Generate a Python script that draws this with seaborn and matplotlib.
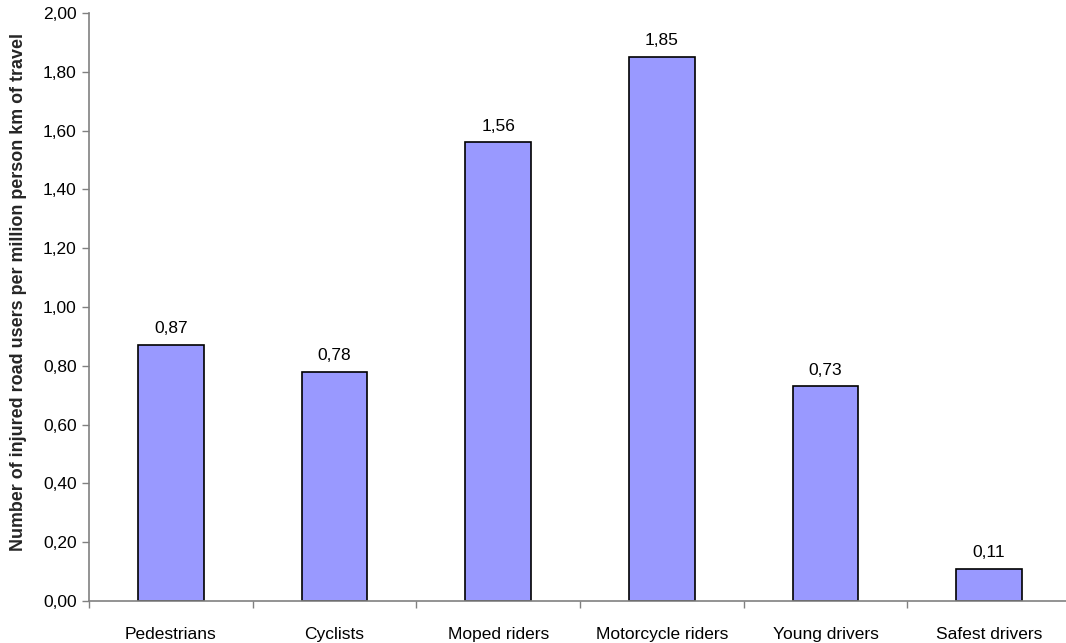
import matplotlib
matplotlib.use("Agg")
import matplotlib.pyplot as plt
import seaborn as sns
import pandas as pd
from matplotlib.ticker import FixedLocator, FuncFormatter

categories = ["Pedestrians", "Cyclists", "Moped riders", "Motorcycle riders",
              "Young drivers", "Safest drivers"]
values = [0.87, 0.78, 1.56, 1.85, 0.73, 0.11]
y_label = "Number of injured road users per million person km of travel"

df = pd.DataFrame({"category": categories, "value": values})

sns.set_theme(style="white")
plt.rcParams["font.family"] = ["Liberation Sans", "DejaVu Sans"]

fig = plt.figure(figsize=(10.66, 6.43), dpi=100)
ax = fig.add_axes([89 / 1066, 42 / 643, 982 / 1066, 588 / 643])

sns.barplot(data=df, x="category", y="value", color="#9999FF", width=0.4,
            edgecolor="black", linewidth=1.2, saturation=1, ax=ax)

def comma(v, pos=None):
    return f"{v:.2f}".replace(".", ",")

for i, v in enumerate(values):
    ax.text(i, v + 0.03, comma(v), ha="center", va="bottom", fontsize=12.5, color="black")

ax.set_xlim(-0.5, 5.5)
ax.set_ylim(0, 2.0)
ax.set_yticks([i * 0.2 for i in range(11)])
ax.yaxis.set_major_formatter(FuncFormatter(comma))
ax.tick_params(axis="y", which="major", left=True, length=5, width=1, color="#808080",
               labelsize=12.5, pad=4, labelcolor="black")

ax.tick_params(axis="x", which="major", bottom=False, length=0, labelsize=12.5, pad=19,
               labelcolor="black")
ax.xaxis.set_minor_locator(FixedLocator([-0.5, 0.5, 1.5, 2.5, 3.5, 4.5]))
ax.tick_params(axis="x", which="minor", bottom=True, length=5, width=1, color="#808080")

ax.set_xlabel("")
ax.set_ylabel(y_label, fontsize=12.9, fontweight="bold")
ax.yaxis.set_label_coords(-0.063, 0.525)

for side in ["top", "right"]:
    ax.spines[side].set_visible(False)
for side in ["left", "bottom"]:
    ax.spines[side].set_color("#808080")
    ax.spines[side].set_linewidth(1.2)

fig.savefig("out.png", dpi=100)
